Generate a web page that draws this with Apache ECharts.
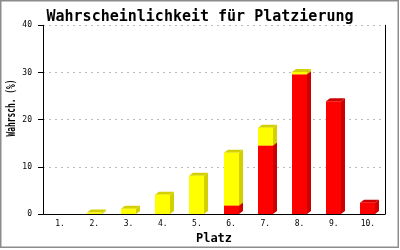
<!DOCTYPE html>
<html><head><meta charset="utf-8">
<script src="https://cdn.jsdelivr.net/npm/echarts@6/dist/echarts.min.js"></script>
<style>html,body{margin:0;padding:0;background:#fff}#c{width:400px;height:250px;}</style>
</head><body><div id="c"></div>
<script>
const categories = ['1.','2.','3.','4.','5.','6.','7.','8.','9.','10.'];
const redValues = [0, 0, 0, 0, 0, 1.8, 14.5, 29.6, 23.9, 2.4];
const yellowValues = [0, 0.3, 1.1, 4.1, 8.1, 11.2, 3.8, 0.5, 0, 0];
const yTickValues = [0, 10, 20, 30, 40];

const FONT = 'DejaVu Sans Mono';
const redData = categories.map((c, i) => [i, 0, redValues[i]]);
const yellowData = categories.map((c, i) => [i, redValues[i], redValues[i] + yellowValues[i]]);

function makeRender(front, shade) {
  return function (params, api) {
    const i = api.value(0), base = api.value(1), top = api.value(2);
    if (top <= base) return null;
    const pb = api.coord([i, base]);
    const pt = api.coord([i, top]);
    const bw = Math.round(api.size([1, 0])[0] * 0.44);
    const dx = 4, dy = 3;
    const x0 = Math.round(pb[0] - bw / 2), x1 = x0 + bw;
    const yb = pb[1], yt = pt[1];
    return {
      type: 'group',
      children: [
        { type: 'polygon', shape: { points: [[x1, yb], [x1, yt], [x1 + dx, yt - dy], [x1 + dx, yb - dy]] }, style: { fill: shade } },
        { type: 'polygon', shape: { points: [[x0, yt], [x0 + dx, yt - dy], [x1 + dx, yt - dy], [x1, yt]] }, style: { fill: shade } },
        { type: 'rect', shape: { x: x0, y: yt, width: bw, height: yb - yt }, style: { fill: front } }
      ]
    };
  };
}

const chart = echarts.init(document.getElementById('c'), null, { renderer: 'canvas' });
chart.setOption({
  animation: false,
  backgroundColor: '#fff',
  title: {
    text: 'Wahrscheinlichkeit für Platzierung',
    left: 'center', top: 5,
    textStyle: { fontFamily: FONT, fontWeight: 'bold', fontSize: 15, color: '#000' }
  },
  graphic: [
    { type: 'rect', shape: { x: 0.75, y: 0.75, width: 397.5, height: 246.5 }, style: { fill: null, stroke: '#8c8c8c', lineWidth: 1.5 }, silent: true },
    { type: 'text', x: 12, y: 108, rotation: Math.PI / 2, scaleX: 0.66,
      style: { text: 'Wahrsch. (%)', fontFamily: FONT, fontWeight: 'bold', fontSize: 12, fill: '#000', align: 'center', verticalAlign: 'middle' } }
  ],
  grid: { left: 43, right: 15, top: 25.3, bottom: 35.7, containLabel: false },
  xAxis: {
    type: 'category', data: categories, boundaryGap: true,
    name: 'Platz', nameLocation: 'middle', nameGap: 19,
    nameTextStyle: { fontFamily: FONT, fontWeight: 'bold', fontSize: 12, color: '#000', verticalAlign: 'top' },
    axisLine: { lineStyle: { color: '#000', width: 1 } },
    axisTick: { show: false },
    axisLabel: { fontFamily: FONT, fontSize: 8, color: '#000', margin: 6, interval: 0 }
  },
  yAxis: [{
    type: 'value', min: 0, max: 40, interval: 10,
    axisLine: { show: true, lineStyle: { color: '#000', width: 1 } },
    axisTick: { show: true, length: 5, lineStyle: { color: '#000' } },
    axisLabel: { fontFamily: FONT, fontSize: 8, color: '#000', margin: 11,
      formatter: v => yTickValues.includes(v) ? String(v) : '' },
    splitLine: { show: true, lineStyle: { color: '#bbb', type: [2, 4], width: 1 } }
  }, {
    type: 'value', min: 0, max: 40, interval: 10, position: 'right',
    axisLine: { show: true, lineStyle: { color: '#000', width: 1 } },
    axisTick: { show: false }, axisLabel: { show: false }, splitLine: { show: false }
  }],
  series: [
    { type: 'custom', name: 'rot', data: redData, encode: { x: 0, y: [1, 2] }, renderItem: makeRender('#ff0000', '#cc0000'), z: 3 },
    { type: 'custom', name: 'gelb', data: yellowData, encode: { x: 0, y: [1, 2] }, renderItem: makeRender('#ffff00', '#d4d000'), z: 4 }
  ]
});
</script></body></html>
